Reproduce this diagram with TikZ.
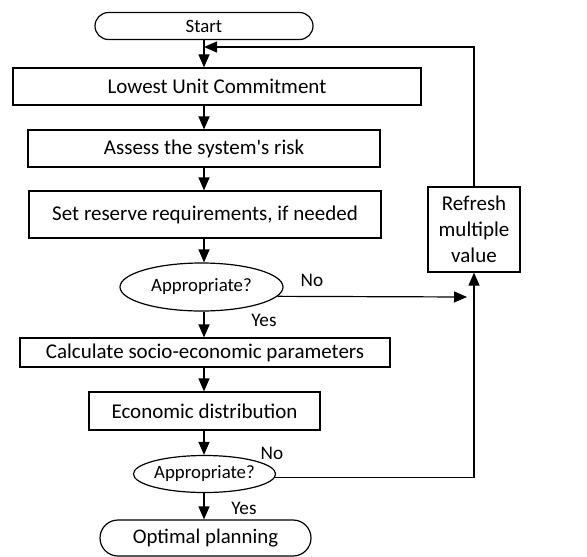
\documentclass[tikz,border=0pt]{standalone}
\usepackage{fontspec}
\setmainfont{Carlito}[Ligatures=TeXOff]
\usetikzlibrary{arrows.meta,shapes.geometric,shapes.misc}
\begin{document}
\begin{tikzpicture}[x=0.5pt,y=-0.5pt,
    line width=0.6pt,
    >={Triangle[length=6.5pt,width=5.5pt]},
    stepbox/.style={draw, rectangle, inner sep=0pt, font=\fontsize{10.5}{13}\selectfont},
    termbox/.style={draw, rounded rectangle, inner sep=0pt},
    askbox/.style={draw, ellipse, inner sep=0pt, font=\fontsize{9.4}{11}\selectfont},
    lbl/.style={font=\fontsize{9.6}{11}\selectfont}]
    \useasboundingbox (0,0) rectangle (587,556);

    %main column
    \node[termbox, minimum width=109pt, minimum height=13.5pt, font=\fontsize{9.4}{11}\selectfont] (start) at (204,26) {Start};
    \node[stepbox, minimum width=204pt, minimum height=18.5pt] (luc) at (217,86.5) {Lowest Unit Commitment};
    \node[stepbox, minimum width=176pt, minimum height=18.5pt] (risk) at (204,148.5) {Assess the system's risk};
    \node[stepbox, minimum width=176pt, minimum height=23.5pt] (reserve) at (205,214.5) {Set reserve requirements, if needed};
    \node[askbox, minimum width=81.5pt, minimum height=24pt] (app1) at (201.5,287) {Appropriate?};
    \node[stepbox, minimum width=185pt, minimum height=14.5pt] (calc) at (205,352.5) {Calculate socio-economic parameters};
    \node[stepbox, minimum width=115.5pt, minimum height=19pt] (econ) at (204.5,411) {Economic distribution};
    \node[askbox, minimum width=62.5pt, minimum height=18.5pt] (app2) at (204.5,474) {Appropriate?};
    \node[termbox, minimum width=105.5pt, minimum height=18pt, font=\fontsize{10.4}{12}\selectfont] (opt) at (205.5,538) {Optimal planning};

    %side box
    \node[stepbox, minimum width=46pt, minimum height=42.5pt, align=center] (refresh) at (474,229.5) {Refresh\\multiple\\value};

    %vertical arrows
    \draw[->] (start.south) -- (start.south |- luc.north);
    \foreach \a/\b in {luc/risk,risk/reserve,reserve/app1,app1/calc,calc/econ,econ/app2,app2/opt}
    {
        \draw[->] (start.south |- \a.south) -- (start.south |- \b.north);
    }

    %feedback
    \coordinate (back) at (204,47);
    \coordinate (join) at (467,297);
    \draw[->] (app1.-7.7) -- (join);
    \draw[->] (app2.-3.7) -| (refresh.south);
    \draw[->] (refresh.north) |- (back);

    %labels
    \node[lbl] (no1) at (312,280) {No};
    \node[lbl] (yes1) at (264,320) {Yes};
    \node[lbl] (no2) at (272,453) {No};
    \node[lbl] (yes2) at (244,508) {Yes};
\end{tikzpicture}
\end{document}
